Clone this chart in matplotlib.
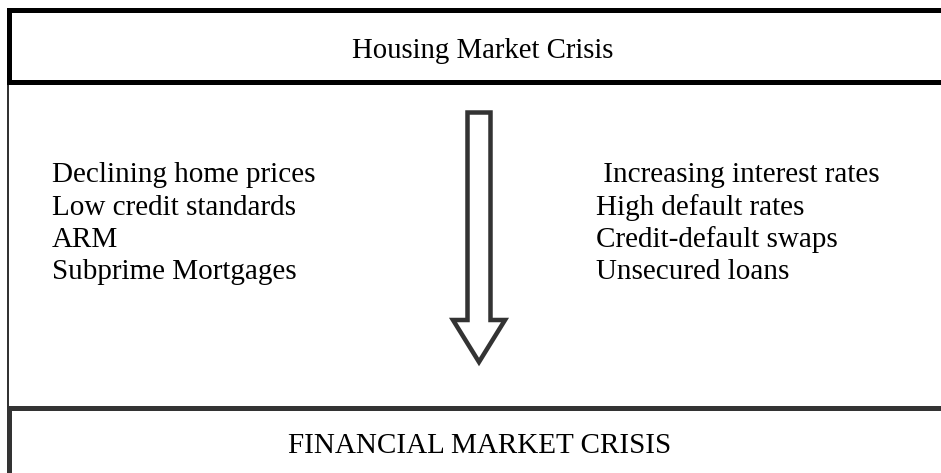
import matplotlib
matplotlib.use("Agg")
import matplotlib.pyplot as plt
from matplotlib.patches import Polygon

# ---- content ----
top_title = "Housing Market Crisis"
bottom_title = "FINANCIAL MARKET CRISIS"
left_items = ["Declining home prices", "Low credit standards", "ARM", "Subprime Mortgages"]
right_items = [" Increasing interest rates", "High default rates", "Credit-default swaps", "Unsecured loans"]

W, H = 941, 473
fig = plt.figure(figsize=(W / 100, H / 100), dpi=100)
ax = fig.add_axes([0, 0, 1, 1])
ax.set_xlim(0, W)
ax.set_ylim(H, 0)
ax.axis("off")

px = 72 / 100  # points per pixel
font = "Liberation Serif"

# top box (open to the right)
ax.plot([W + 10, 9.5, 9.5, W + 10], [10.5, 10.5, 82.5, 82.5], color="black",
        lw=5 * px, solid_joinstyle="miter", solid_capstyle="butt")
# thin left line in middle region
ax.plot([8.5, 8.5], [85, 406], color="black", lw=1.6 * px)
# bottom box
ax.plot([W + 10, 9.5, 9.5], [407.5, 407.5, H + 10], color="#333333",
        lw=5 * px, solid_joinstyle="miter", solid_capstyle="butt")

# arrow
arrow = Polygon([(467.5, 112.5), (490.5, 112.5), (490.5, 320), (505, 320),
                 (479, 362), (453, 320), (467.5, 320)], closed=True,
                facecolor="white", edgecolor="#333333", lw=4.5 * px,
                joinstyle="miter")
ax.add_patch(arrow)

ax.text(482.5, 58, top_title, fontsize=20.7, family=font, ha="center", va="baseline")
ax.text(479.5, 453, bottom_title, fontsize=21, family=font, ha="center", va="baseline")

fs = 21
baselines = [182, 215, 247, 279]
for t, y in zip(left_items, baselines):
    ax.text(52, y, t, fontsize=fs, family=font, ha="left", va="baseline")
for t, y in zip(right_items, baselines):
    ax.text(596, y, t, fontsize=fs, family=font, ha="left", va="baseline")

fig.savefig("out.png", dpi=100)
